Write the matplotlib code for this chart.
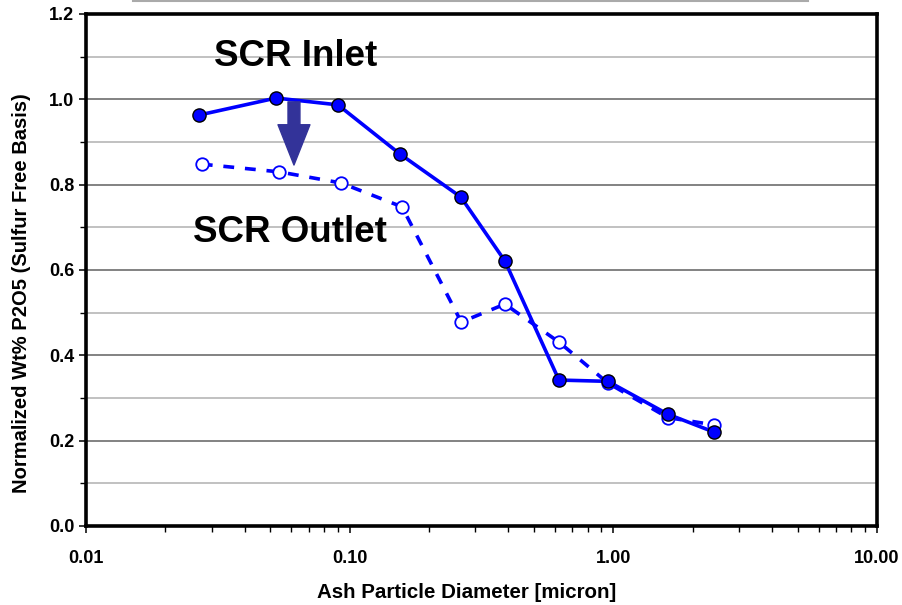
import matplotlib
matplotlib.use("Agg")
import matplotlib.pyplot as plt
from matplotlib.lines import Line2D
from matplotlib.ticker import FixedLocator, NullFormatter, MultipleLocator

plt.rcParams['font.family'] = ['Liberation Sans', 'DejaVu Sans']

# particle diameter (micron) and normalized P2O5
inlet_x = [0.0268, 0.0526, 0.0903, 0.155, 0.264, 0.388, 0.622, 0.954, 1.61, 2.41]
inlet_y = [0.963, 1.003, 0.987, 0.872, 0.771, 0.621, 0.342, 0.339, 0.262, 0.220]
outlet_x = [0.0275, 0.054, 0.0927, 0.158, 0.265, 0.388, 0.622, 0.954, 1.61, 2.41]
outlet_y = [0.848, 0.830, 0.804, 0.748, 0.478, 0.520, 0.431, 0.335, 0.254, 0.237]

x_ticks = [0.01, 0.1, 1, 10]
x_labels = ["0.01", "0.10", "1.00", "10.00"]

blue = "#0000ff"

fig = plt.figure(figsize=(9.02, 6.05), dpi=100)
ax = fig.add_axes([0.0953, 0.1306, 0.8770, 0.8463])

ax.set_xscale("log")
ax.set_xlim(0.01, 10)
ax.set_ylim(0, 1.2)

# horizontal grid, darker at 0.2 steps
for i in range(1, 12):
    yv = i / 10
    if i % 2 == 0:
        ax.axhline(yv, color="#606060", lw=1.1, zorder=0)
    else:
        ax.axhline(yv, color="#b0b0b0", lw=1.1, zorder=0)

ax.plot(outlet_x, outlet_y, color=blue, lw=2.6, linestyle=(0, (3, 3)),
        marker="o", markersize=9, markerfacecolor="white",
        markeredgecolor=blue, markeredgewidth=1.3, zorder=3)
ax.plot(inlet_x, inlet_y, color=blue, lw=2.6, marker="o", markersize=9.5,
        markerfacecolor=blue, markeredgecolor="black", markeredgewidth=1.0,
        zorder=4)

ax.annotate("", xy=(0.0615, 0.846), xytext=(0.0615, 0.994),
            arrowprops=dict(arrowstyle="simple,head_width=1.15,head_length=1.45,tail_width=0.43",
                            color="#333399", mutation_scale=20, shrinkA=0, shrinkB=0),
            zorder=5)

ax.text(0.0625, 1.10, "SCR Inlet", fontsize=26.5, fontweight="bold", ha="center", va="center")
ax.text(0.0595, 0.688, "SCR Outlet", fontsize=26.5, fontweight="bold", ha="center", va="center")

ax.xaxis.set_major_locator(FixedLocator(x_ticks))
ax.set_xticklabels(x_labels)
ax.xaxis.set_minor_formatter(NullFormatter())
ax.set_yticks([0, 0.2, 0.4, 0.6, 0.8, 1.0, 1.2])
ax.set_yticklabels(["0.0", "0.2", "0.4", "0.6", "0.8", "1.0", "1.2"])
ax.yaxis.set_minor_locator(MultipleLocator(0.1))

ax.tick_params(axis="both", which="major", length=5, width=1.1, direction="out")
ax.tick_params(axis="y", which="major", labelsize=13)
ax.tick_params(axis="x", which="major", labelsize=13, pad=12)
ax.tick_params(axis="both", which="minor", length=4, width=1.0, direction="out")
for lab in ax.get_xticklabels() + ax.get_yticklabels():
    lab.set_fontweight("bold")

for sp in ax.spines.values():
    sp.set_linewidth(2.6)
    sp.set_color("black")

fig.text(467 / 902, 1 - 592 / 605, "Ash Particle Diameter [micron]", fontsize=14.8,
         fontweight="bold", ha="center", va="center")
fig.text(22 / 902, 1 - 293 / 605, "Normalized Wt% P2O5 (Sulfur Free Basis)", fontsize=14.5,
         fontweight="bold", ha="center", va="center", rotation=90)

fig.add_artist(Line2D([133 / 902, 808 / 902], [0.998, 0.998], color="#aaaaaa", lw=1.5))

fig.savefig("out.png", dpi=100)
